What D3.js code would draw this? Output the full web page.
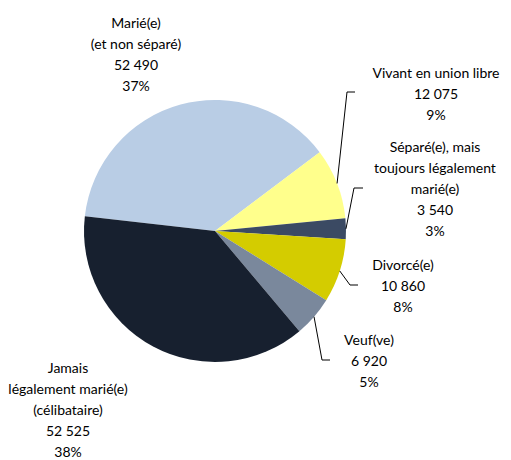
<!DOCTYPE html>
<html>
<head>
<meta charset="utf-8">
<script src="https://cdn.jsdelivr.net/npm/d3@7/dist/d3.min.js"></script>
<style>
  body { margin: 0; background: #fff; }
  svg text { font-family: Lato, "Open Sans", sans-serif; font-size: 14px; fill: #000; }
</style>
</head>
<body>
<div id="chart"></div>
<script>
// Données (état matrimonial)
const categories = [
    'Marié(e)|(et non séparé)',
    'Vivant en union libre',
    'Séparé(e), mais|toujours légalement|marié(e)',
    'Divorcé(e)',
    'Veuf(ve)',
    'Jamais|légalement marié(e)|(célibataire)'
];
const values   = [52490, 12075, 3540, 10860, 6920, 52525];
const valueLabels = ['52 490', '12 075', '3 540', '10 860', '6 920', '52 525'];
const percentLabels = ['37%', '9%', '3%', '8%', '5%', '38%'];
const colors   = ['#b9cde5', '#ffff8c', '#3b4a63', '#d4cc00', '#7a889c', '#17202f'];

const W = 511, H = 460;
const cx = 215, cy = 231, R = 131;
const lineH = 21.1;

// position du bloc de texte (centre x, y de la première ligne) relative au centre
// + coude de la ligne de rappel (null = pas de ligne)
const labelLayout = [
    { x: -79, y: -209, elbow: null },
    { x: 221, y: -159, elbow: [132, -139, 140] },
    { x: 220, y: -85,  elbow: [139, -43, 148] },
    { x: 188, y: 33,   elbow: [135, 54, 143] },
    { x: 154, y: 108,  elbow: [107, 129, 115] },
    { x: -147, y: 136, elbow: null }
];

const svg = d3.select('#chart').append('svg')
    .attr('width', W)
    .attr('height', H)
    .attr('viewBox', `0 0 ${W} ${H}`);

const g = svg.append('g').attr('transform', `translate(${cx},${cy})`);

const startA = -83.5 * Math.PI / 180;
const pie = d3.pie().sort(null)
    .startAngle(startA)
    .endAngle(startA + 2 * Math.PI);
const arcs = pie(values);
const arc = d3.arc().innerRadius(0).outerRadius(R);

g.selectAll('path.slice')
    .data(arcs)
    .join('path')
    .attr('class', 'slice')
    .attr('d', arc)
    .attr('fill', (d, i) => colors[i]);

// lignes de rappel
arcs.forEach((d, i) => {
    const L = labelLayout[i];
    if (!L.elbow) return;
    const mid = (d.startAngle + d.endAngle) / 2;
    const p0 = [Math.sin(mid) * R, -Math.cos(mid) * R];
    const [ex, ey, hx] = L.elbow;
    g.append('path')
        .attr('d', `M${p0[0]},${p0[1]}L${ex},${ey}L${hx},${ey}`)
        .attr('fill', 'none')
        .attr('stroke', '#000')
        .attr('stroke-width', 1);
});

// étiquettes
arcs.forEach((d, i) => {
    const L = labelLayout[i];
    const lines = categories[i].split('|').concat([valueLabels[i], percentLabels[i]]);
    const t = g.append('text')
        .attr('text-anchor', 'middle')
        .attr('dominant-baseline', 'central');
    lines.forEach((s, k) => {
        t.append('tspan')
            .attr('x', L.x)
            .attr('y', L.y + k * lineH)
            .text(s);
    });
});
</script>
</body>
</html>
